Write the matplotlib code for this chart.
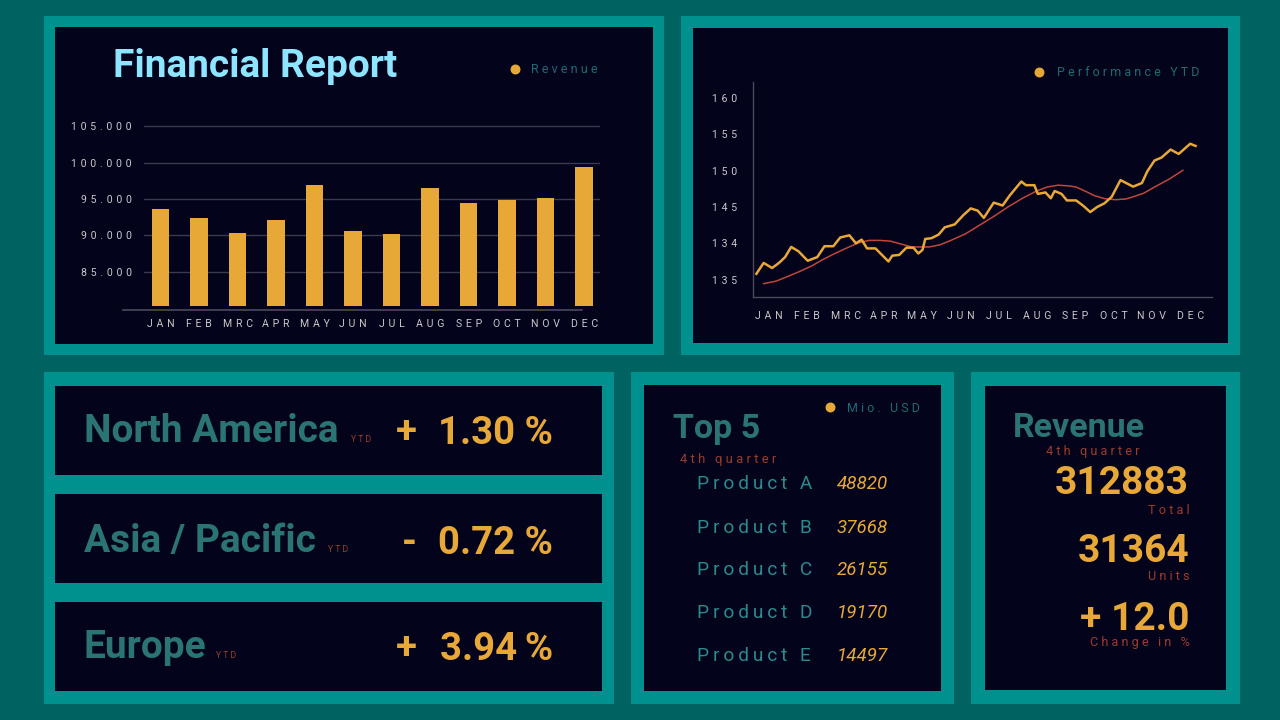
import matplotlib
matplotlib.use("Agg")
import matplotlib.pyplot as plt
from matplotlib.patches import Rectangle

plt.rcParams['font.family'] = ['Roboto', 'DejaVu Sans']

# ---------------- data ----------------
months = ["JAN", "FEB", "MRC", "APR", "MAY", "JUN", "JUL", "AUG", "SEP", "OCT", "NOV", "DEC"]
revenue = [93700, 92400, 90300, 92100, 96900, 90650, 90250, 96570, 94450, 94900, 95100, 99450]
rev_ticks = [85000, 90000, 95000, 100000, 105000]
rev_ticklabels = ["85.000", "90.000", "95.000", "100.000", "105.000"]

perf_x = [-0.33, -0.14, 0.08, 0.26, 0.42, 0.58, 0.77, 1.01, 1.26, 1.45, 1.68, 1.86, 2.10, 2.27,
          2.42, 2.56, 2.78, 3.12, 3.22, 3.40, 3.59, 3.77, 3.90, 4.01, 4.08, 4.24, 4.43, 4.59,
          4.85, 5.08, 5.27, 5.45, 5.61, 5.87, 6.10, 6.29, 6.59, 6.71, 6.93, 7.02, 7.22, 7.36,
          7.46, 7.64, 7.78, 8.02, 8.20, 8.39, 8.57, 8.76, 8.95, 9.18, 9.51, 9.74, 9.88, 10.07,
          10.25, 10.49, 10.70, 11.00, 11.14]
perf_y = [135.8, 137.3, 136.6, 137.3, 138.1, 139.5, 138.9, 137.6, 138.1, 139.6, 139.6, 140.8, 141.1, 140.0,
          140.5, 139.3, 139.3, 137.5, 138.3, 138.4, 139.4, 139.4, 138.6, 139.1, 140.6, 140.7, 141.2, 142.2,
          142.6, 143.9, 144.8, 144.5, 143.5, 145.6, 145.2, 146.6, 148.5, 148.0, 148.0, 146.8, 147.0, 146.2,
          147.2, 146.8, 145.9, 145.9, 145.2, 144.3, 145.0, 145.5, 146.4, 148.7, 147.8, 148.3, 149.9, 151.4,
          151.8, 152.9, 152.3, 153.7, 153.4]
trend_x = [-0.14, 0.19, 0.47, 0.79, 1.12, 1.40, 1.72, 2.05, 2.33, 2.61, 2.89, 3.17, 3.45, 3.73,
           4.19, 4.47, 4.75, 5.13, 5.50, 5.87, 6.24, 6.62, 6.99, 7.27, 7.55, 7.83, 8.02, 8.29,
           8.48, 8.76, 9.04, 9.32, 9.51, 9.79, 10.07, 10.44, 10.81]
trend_y = [134.45, 134.8, 135.4, 136.1, 136.9, 137.75, 138.6, 139.4, 140.05, 140.4, 140.4, 140.3, 139.9, 139.5,
           139.5, 139.8, 140.4, 141.3, 142.5, 143.7, 145.0, 146.2, 147.2, 147.75, 148.0, 147.9, 147.75, 147.1,
           146.6, 146.15, 146.0, 146.1, 146.4, 146.9, 147.75, 148.8, 150.05]
perf_ticks = [135, 140, 145, 150, 155, 160]
perf_ticklabels = ["135", "134", "145", "150", "155", "160"]

regions = ["North America", "Asia / Pacific", "Europe"]
region_signs = ["+", "-", "+"]
region_values = ["1.30 %", "0.72 %", "3.94\u2009%"]

products = ["Product A", "Product B", "Product C", "Product D", "Product E"]
product_values = ["48820", "37668", "26155", "19170", "14497"]

rev_kpis = ["312883", "31364", "+ 12.0"]
rev_kpi_labels = ["Total", "Units", "Change in %"]

# ---------------- styles ----------------
BG = "#006361"
BORDER = "#00908e"
INNER = "#03031c"
ORANGE = "#e8a838"
CYAN = "#8ee5ff"
TEAL_HEAD = "#2a7474"
TEAL_PROD = "#2a8b8d"
TEAL_LEG = "#1f6a72"
RED = "#9e3b2c"
TICK = "#c8c8c8"
GRID = "#3a3a4c"
TICKSEP = " \u200a"


def sp(s, sep=" "):
    return sep.join(list(s))


W, H = 1280, 720
fig = plt.figure(figsize=(12.8, 7.2), dpi=100, facecolor=BG)
bg = fig.add_axes([0, 0, 1, 1], zorder=0)
bg.set_xlim(0, W)
bg.set_ylim(H, 0)
bg.axis("off")


def panel(x0, y0, x1, y1, bw=11):
    bg.add_patch(Rectangle((x0, y0), x1 - x0, y1 - y0, facecolor=BORDER, edgecolor="none"))
    bg.add_patch(Rectangle((x0 + bw, y0 + bw), x1 - x0 - 2 * bw, y1 - y0 - 2 * bw,
                           facecolor=INNER, edgecolor="none"))


# top panels
panel(44, 16, 664, 355, bw=11)
panel(681, 16, 1240, 355, bw=12)
# bottom-left region block
bg.add_patch(Rectangle((44, 372), 570, 332, facecolor=BORDER, edgecolor="none"))
for y0, y1 in [(386, 475), (494, 583), (602, 691)]:
    bg.add_patch(Rectangle((55, y0), 547, y1 - y0, facecolor=INNER, edgecolor="none"))
panel(631, 372, 954, 704, bw=13)
panel(971, 372, 1240, 704, bw=14)


def ax_at(x0, y0, x1, y1):
    return fig.add_axes([x0 / W, 1 - y1 / H, (x1 - x0) / W, (y1 - y0) / H], zorder=2)


# ---------------- bar chart ----------------
ax1 = ax_at(143.7, 110, 600, 310)
ax1.set_facecolor("none")
ax1.bar(range(len(months)), [v - 80300 for v in revenue], bottom=80300, width=0.455,
        color=ORANGE, zorder=3)
ax1.set_xlim(-0.44, 11.41)
ax1.set_ylim(79725, 107270)
ax1.set_yticks(rev_ticks)
ax1.set_yticklabels([sp(t, TICKSEP) for t in rev_ticklabels], color=TICK, fontsize=7.6)
ax1.set_xticks(range(len(months)))
ax1.set_xticklabels([sp(m, TICKSEP) for m in months], color=TICK, fontsize=7.6)
ax1.tick_params(axis="y", length=0, pad=8.5)
ax1.tick_params(axis="x", length=0, pad=6.5)
ax1.grid(axis="y", color=GRID, linewidth=1)
ax1.set_axisbelow(True)
for s in ax1.spines.values():
    s.set_visible(False)
bg.plot([123, 582], [310, 310], color="#4a4a5a", linewidth=1.2)

bg.text(113, 77, "Financial Report", color=CYAN, fontsize=28, fontweight="bold", va="baseline")
bg.scatter([515], [69], s=38, color=ORANGE)
bg.text(531, 73, sp("Revenue"), color=TEAL_LEG, fontsize=9, va="baseline")

# ---------------- line chart ----------------
ax2 = ax_at(753, 82, 1212, 297)
ax2.set_facecolor("none")
ax2.plot(trend_x, trend_y, color="#c0463a", linewidth=1.1, zorder=2)
ax2.plot(perf_x, perf_y, color=ORANGE, linewidth=1.8, zorder=3)
ax2.set_xlim(-0.418, 11.57)
ax2.set_ylim(132.61, 162.2)
ax2.set_yticks(perf_ticks)
ax2.set_yticklabels([sp(t, TICKSEP) for t in perf_ticklabels], color=TICK, fontsize=7.6)
ax2.set_xticks(range(len(months)))
ax2.set_xticklabels([sp(m, TICKSEP) for m in months], color=TICK, fontsize=7.6)
ax2.tick_params(axis="y", length=0, pad=11.5)
ax2.tick_params(axis="x", length=0, pad=9.8)
for k in ["top", "right"]:
    ax2.spines[k].set_visible(False)
for k in ["left", "bottom"]:
    ax2.spines[k].set_color("#4a4a5a")
    ax2.spines[k].set_linewidth(1.0)

bg.scatter([1039], [72], s=38, color=ORANGE)
bg.text(1057, 76, sp("Performance YTD"), color=TEAL_LEG, fontsize=9, va="baseline")

# ---------------- regions ----------------
name_base = [441.5, 551.5, 657.5]
ytd_x = [351, 328, 216]
sign_x = [396, 402, 396]
for name, sgn, val, yb, yx, sx in zip(regions, region_signs, region_values, name_base, ytd_x, sign_x):
    bg.text(84, yb, name, color=TEAL_HEAD, fontsize=28, fontweight="bold", va="baseline")
    bg.text(yx, yb, sp("YTD"), color=RED, fontsize=6.2, va="baseline")
    bg.text(sx, yb + 2, sgn, color=ORANGE, fontsize=27.5, fontweight="bold", va="baseline")
    bg.text(553, yb + 2, val, color=ORANGE, fontsize=27.5, fontweight="bold", va="baseline", ha="right")

# ---------------- top 5 ----------------
bg.text(673, 438, "Top 5", color=TEAL_HEAD, fontsize=24.5, fontweight="bold", va="baseline")
bg.text(680, 462.5, sp("4th quarter"), color=RED, fontsize=9.4, va="baseline")
bg.scatter([830], [407], s=38, color=ORANGE)
bg.text(847, 412, sp("Mio. USD"), color=TEAL_LEG, fontsize=9, va="baseline")
prod_y = [482.3, 525.7, 568.3, 610.7, 654]
for p, v, y in zip(products, product_values, prod_y):
    bg.text(697, y, sp(p, "\u2009"), color=TEAL_PROD, fontsize=13.8, va="center_baseline")
    bg.text(837, y, v, color=ORANGE, fontsize=13.5, style="italic", va="center_baseline")

# ---------------- revenue KPIs ----------------
bg.text(1013, 437, "Revenue", color=TEAL_HEAD, fontsize=24.5, fontweight="bold", va="baseline")
bg.text(1046, 455, sp("4th quarter"), color=RED, fontsize=9.2, va="baseline")
kpi_base = [493.5, 562, 629.5]
lab_base = [513.5, 580, 646]
for k, lab, yb, yl in zip(rev_kpis, rev_kpi_labels, kpi_base, lab_base):
    bg.text(1189, yb, k, color=ORANGE, fontsize=28, fontweight="bold", va="baseline", ha="right")
    bg.text(1190, yl, sp(lab), color=RED, fontsize=9.2, va="baseline", ha="right")

fig.savefig("out.png", dpi=100, facecolor=BG)
